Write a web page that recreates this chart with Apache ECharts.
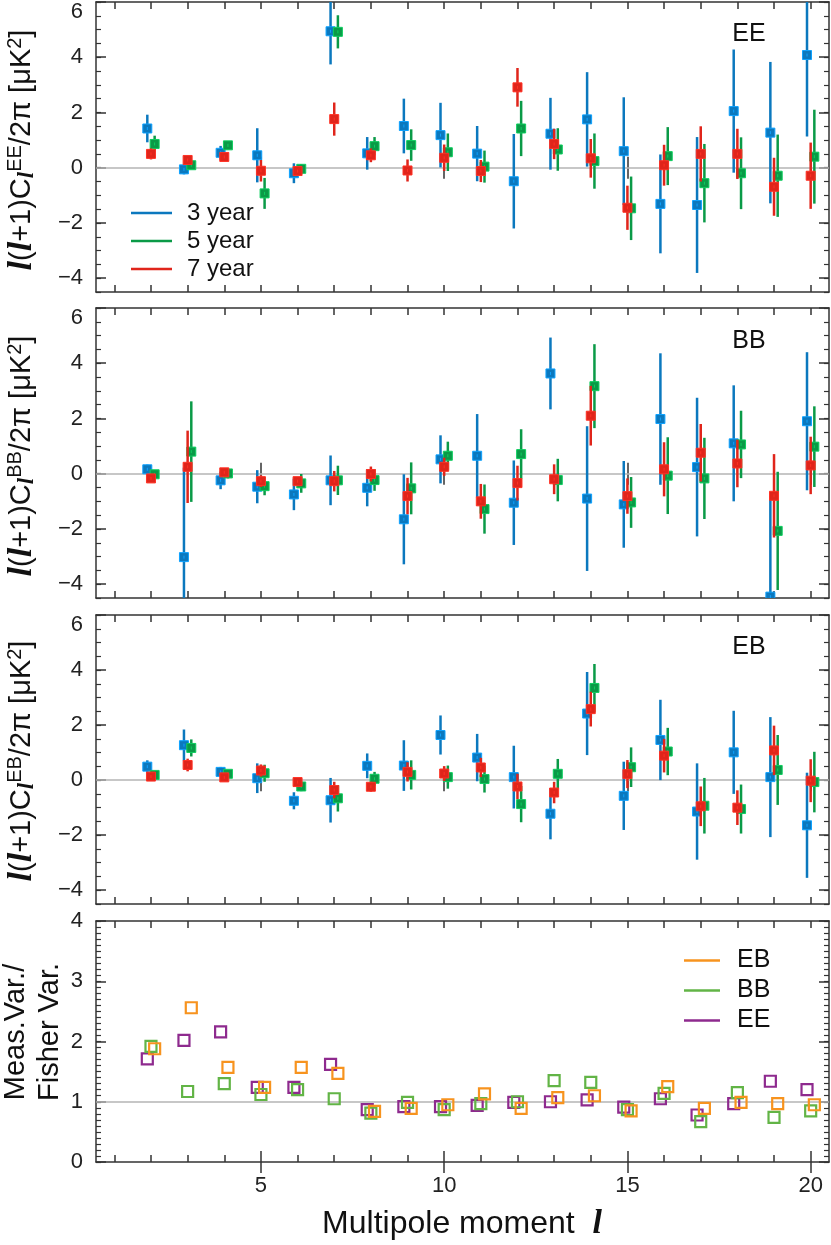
<!DOCTYPE html>
<html>
<head>
<meta charset="utf-8">
<script src="https://cdn.jsdelivr.net/npm/echarts@6/dist/echarts.min.js"></script>
<style>
  html, body { margin: 0; padding: 0; background: #fff; }
  #main { width: 831px; height: 1245px; }
</style>
</head>
<body>
<div id="main"></div>
<script>
// multipoles
var ells = [2, 3, 4, 5, 6, 7, 8, 9, 10, 11, 12, 13, 14, 15, 16, 17, 18, 19, 20];

// EE
var ee3  = [1.42, -0.06, 0.54, 0.45, -0.20, 4.94, 0.52, 1.51, 1.18, 0.51, -0.49, 1.23, 1.75, 0.60, -1.31, -1.35, 2.05, 1.27, 4.08];
var ee3e = [0.50, 0.18, 0.25, 0.98, 0.36, 1.20, 0.59, 0.99, 1.17, 1.00, 1.71, 1.30, 1.71, 1.95, 1.79, 2.46, 2.23, 2.56, 2.95];
var ee5  = [0.86, 0.09, 0.81, -0.93, -0.04, 4.92, 0.78, 0.82, 0.56, 0.04, 1.42, 0.66, 0.24, -1.47, 0.42, -0.56, -0.20, -0.29, 0.40];
var ee5e = [0.30, 0.10, 0.13, 0.56, 0.17, 0.60, 0.33, 0.57, 0.68, 0.58, 1.00, 0.77, 1.00, 1.15, 1.05, 1.42, 1.30, 1.49, 1.70];
var ee7  = [0.50, 0.28, 0.39, -0.11, -0.12, 1.76, 0.45, -0.10, 0.36, -0.12, 2.91, 0.86, 0.34, -1.45, 0.09, 0.50, 0.50, -0.69, -0.29];
var ee7e = [0.20, 0.10, 0.10, 0.39, 0.10, 0.60, 0.25, 0.40, 0.48, 0.40, 0.70, 0.55, 0.70, 0.80, 0.74, 1.00, 0.91, 1.05, 1.20];

// BB
var bb3  = [0.16, -3.02, -0.24, -0.47, -0.75, -0.24, -0.51, -1.65, 0.52, 0.65, -1.05, 3.63, -0.90, -1.11, 1.98, 0.24, 1.10, -4.45, 1.90];
var bb3e = [0.17, 3.24, 0.32, 0.60, 0.57, 0.90, 0.67, 1.63, 0.87, 1.51, 1.53, 1.30, 2.62, 1.57, 2.38, 2.51, 2.10, 3.64, 2.50];
var bb5  = [-0.02, 0.80, 0.01, -0.45, -0.35, -0.24, -0.23, -0.53, 0.65, -1.28, 0.71, -0.23, 3.17, -1.04, -0.07, -0.17, 1.06, -2.07, 0.98];
var bb5e = [0.06, 1.82, 0.18, 0.33, 0.34, 0.53, 0.39, 0.94, 0.51, 0.89, 0.90, 0.77, 1.52, 0.92, 1.39, 1.47, 1.22, 2.14, 1.46];
var bb7  = [-0.17, 0.25, 0.05, -0.27, -0.27, -0.27, -0.01, -0.81, 0.25, -1.00, -0.34, -0.20, 2.10, -0.81, 0.16, 0.76, 0.37, -0.80, 0.30];
var bb7e = [0.08, 1.31, 0.08, 0.21, 0.12, 0.37, 0.27, 0.66, 0.33, 0.63, 0.63, 0.54, 1.08, 0.64, 0.98, 1.04, 0.86, 1.51, 1.04];

// EB
var eb3  = [0.49, 1.27, 0.30, 0.07, -0.75, -0.73, 0.52, 0.53, 1.64, 0.82, 0.11, -1.22, 2.42, -0.57, 1.46, -1.14, 1.01, 0.11, -1.64];
var eb3e = [0.23, 0.57, 0.18, 0.54, 0.31, 0.81, 0.45, 0.92, 0.71, 0.86, 1.14, 0.93, 1.51, 1.24, 1.46, 1.75, 1.51, 2.18, 1.91];
var eb5  = [0.19, 1.17, 0.23, 0.25, -0.23, -0.66, 0.05, 0.19, 0.11, 0.04, -0.87, 0.23, 3.35, 0.47, 1.04, -0.93, -1.05, 0.37, -0.07];
var eb5e = [0.10, 0.31, 0.06, 0.31, 0.17, 0.48, 0.25, 0.53, 0.42, 0.49, 0.66, 0.54, 0.87, 0.72, 0.86, 1.01, 0.89, 1.27, 1.10];
var eb7  = [0.13, 0.55, 0.10, 0.35, -0.07, -0.36, -0.24, 0.30, 0.24, 0.46, -0.23, -0.45, 2.58, 0.22, 0.89, -0.95, -1.00, 1.08, -0.02];
var eb7e = [0.06, 0.23, 0.06, 0.22, 0.08, 0.30, 0.18, 0.35, 0.27, 0.35, 0.46, 0.39, 0.63, 0.51, 0.61, 0.72, 0.63, 0.90, 0.78];

// Meas.Var./Fisher Var.
var varEE = [1.71, 2.02, 2.16, 1.24, 1.24, 1.62, 0.87, 0.92, 0.92, 0.94, 0.99, 1.00, 1.03, 0.91, 1.05, 0.78, 0.97, 1.34, 1.20];
var varBB = [1.92, 1.17, 1.30, 1.12, 1.20, 1.05, 0.81, 0.99, 0.87, 0.97, 1.00, 1.35, 1.32, 0.87, 1.14, 0.67, 1.15, 0.74, 0.85];
var varEB = [1.88, 2.56, 1.57, 1.24, 1.57, 1.47, 0.84, 0.89, 0.95, 1.13, 0.89, 1.07, 1.10, 0.85, 1.25, 0.89, 0.99, 0.97, 0.95];

// ticks
var xTicks = [1, 2, 3, 4, 5, 6, 7, 8, 9, 10, 11, 12, 13, 14, 15, 16, 17, 18, 19, 20];
var xMajor = [5, 10, 15, 20];
var yMajor = [-4, -2, 0, 2, 4, 6];
var yMinor = [];
for (var k = -9; k <= 12; k++) yMinor.push(k / 2);
var vMajor = [0, 1, 2, 3, 4];
var vMinor = [];
for (var k = 0; k <= 40; k++) vMinor.push(k / 10);

var C3 = '#0B78BE', C5 = '#0A9A47', C7 = '#E0251B';
var CEB = '#F7931E', CBB = '#62B446', CEE = '#8E2A8E';
var FONT = 'Liberation Sans';
var AX = '#333';

var grids = [
    {left: 96, right: 2, top: 2, height: 290},
    {left: 96, right: 2, top: 308, height: 290},
    {left: 96, right: 2, top: 615, height: 289},
    {left: 96, right: 2, top: 921, height: 241}
];

function minus(v) {
    return v < 0 ? '\u2212' + Math.abs(v) : String(v);
}

var xAxes = [], yAxes = [];
grids.forEach(function (g, gi) {
    ['bottom', 'top'].forEach(function (pos) {
        xAxes.push({
            gridIndex: gi, type: 'value', min: 0.5, max: 20.5, position: pos,
            axisLine: {show: true, onZero: false, lineStyle: {color: AX, width: 1.5}},
            axisTick: {show: true, inside: true, length: 7, customValues: xTicks, lineStyle: {color: AX, width: 1.5}},
            axisLabel: {show: pos === 'bottom' && gi === 3, customValues: xMajor, margin: 13,
                fontFamily: FONT, fontSize: 22, color: '#222'},
            splitLine: {show: false}
        });
        xAxes.push({
            gridIndex: gi, type: 'value', min: 0.5, max: 20.5, position: pos,
            axisLine: {show: false},
            axisTick: {show: true, inside: true, length: 11, customValues: xMajor, lineStyle: {color: AX, width: 1.5}},
            axisLabel: {show: false},
            splitLine: {show: false}
        });
    });
    var isVar = gi === 3;
    ['left', 'right'].forEach(function (pos) {
        yAxes.push({
            gridIndex: gi, type: 'value', min: isVar ? 0 : -4.5, max: isVar ? 4 : 6, position: pos,
            axisLine: {show: true, onZero: false, lineStyle: {color: AX, width: 1.5}},
            axisTick: {show: true, inside: true, length: 5, customValues: isVar ? vMinor : yMinor,
                lineStyle: {color: AX, width: 1.2}},
            axisLabel: {show: pos === 'left', customValues: isVar ? vMajor : yMajor, margin: 13,
                fontFamily: FONT, fontSize: 22, color: '#222',
                formatter: function (v) {
                    if (!isVar && v === 6) return '{t|6}';
                    return minus(v);
                },
                rich: {t: {fontFamily: FONT, fontSize: 22, color: '#222', padding: [20, 0, 0, 0]}}
            },
            splitLine: {show: false}
        });
        yAxes.push({
            gridIndex: gi, type: 'value', min: isVar ? 0 : -4.5, max: isVar ? 4 : 6, position: pos,
            axisLine: {show: false},
            axisTick: {show: true, inside: true, length: 10, customValues: isVar ? vMajor : yMajor,
                lineStyle: {color: AX, width: 1.5}},
            axisLabel: {show: false},
            splitLine: {show: false}
        });
    });
});

function lighten(c) {
    return echarts.color.lift(c, -0.35);
}

function errItem(params, api) {
    var x = api.value(0), v = api.value(1), e = api.value(2);
    var p = api.coord([x, v]);
    var hi = api.coord([x, v + e]);
    var lo = api.coord([x, v - e]);
    var color = api.visual('color');
    return {
        type: 'group',
        children: [
            {type: 'line', shape: {x1: p[0], y1: lo[1], x2: p[0], y2: hi[1]},
                style: {stroke: color, lineWidth: 2.5}},
            {type: 'rect', shape: {x: p[0] - 4.5, y: p[1] - 4.5, width: 9, height: 9},
                style: {fill: color, stroke: lighten(color), lineWidth: 1}},
            {type: 'line', shape: {x1: p[0], y1: p[1] - 1.5, x2: p[0], y2: p[1] + 1.5},
                style: {stroke: lighten(color), lineWidth: 1}}
        ]
    };
}

function errSeries(name, gi, vals, errs, off, color, withZero) {
    var s = {
        name: name, type: 'custom', xAxisIndex: gi * 4, yAxisIndex: gi * 4,
        clip: true,
        itemStyle: {color: color},
        renderItem: errItem,
        encode: {x: 0, y: 1},
        data: ells.map(function (l, i) { return [l + off, vals[i], errs[i]]; }),
        z: 3
    };
    if (withZero) {
        s.markLine = {
            silent: true, symbol: 'none', label: {show: false},
            lineStyle: {color: '#b5b5b5', width: 1.5, type: 'solid'},
            data: [{yAxis: withZero.y}], z: 1, animation: false
        };
    }
    return s;
}

var series = [];
var panels = [
    [ee3, ee3e, ee5, ee5e, ee7, ee7e],
    [bb3, bb3e, bb5, bb5e, bb7, bb7e],
    [eb3, eb3e, eb5, eb5e, eb7, eb7e]
];
panels.forEach(function (p, gi) {
    series.push(errSeries('3 year', gi, p[0], p[1], -0.1, C3, {y: 0}));
    series.push(errSeries('5 year', gi, p[2], p[3], 0.1, C5));
    series.push(errSeries('7 year', gi, p[4], p[5], 0, C7));
});

function varSeries(name, vals, off, color, withOne) {
    var s = {
        name: name, type: 'scatter', xAxisIndex: 12, yAxisIndex: 12,
        symbol: 'rect', symbolSize: 11,
        itemStyle: {color: 'rgba(255,255,255,0)', borderColor: color, borderWidth: 2.2, opacity: 1},
        data: ells.map(function (l, i) { return [l + off, vals[i]]; }),
        z: 3
    };
    if (withOne) {
        s.markLine = {
            silent: true, symbol: 'none', label: {show: false},
            lineStyle: {color: '#b5b5b5', width: 1.5, type: 'solid'},
            data: [{yAxis: 1}], z: 1, animation: false
        };
    }
    return s;
}
series.push(varSeries('EE', varEE, -0.1, CEE, true));
series.push(varSeries('BB', varBB, 0, CBB));
series.push(varSeries('EB', varEB, 0.1, CEB));

var yNameRich = {
    i: {fontFamily: 'Liberation Serif', fontStyle: 'italic', fontWeight: 'bold', fontSize: 34, color: '#111'},
    sub: {fontFamily: 'Liberation Serif', fontStyle: 'italic', fontWeight: 'bold', fontSize: 23, color: '#111', verticalAlign: 'bottom'},
    sup: {fontFamily: FONT, fontSize: 20, color: '#111', verticalAlign: 'top'}
};

function yName(tag, cx, cy) {
    return {
        type: 'text', x: cx, y: cy, rotation: Math.PI / 2,
        style: {
            text: '{i|l}({i|l}+1)C{sub|l}{sup|' + tag + '}/2\u03c0 [\u03bcK{sup|2}]',
            rich: yNameRich,
            font: '29px "Liberation Sans"', fill: '#111',
            align: 'center', verticalAlign: 'middle'
        }
    };
}

var option = {
    backgroundColor: '#fff',
    animation: false,
    grid: grids,
    xAxis: xAxes,
    yAxis: yAxes,
    legend: [
        {
            data: ['3 year', '5 year', '7 year'],
            orient: 'vertical', left: 126, top: 196, itemGap: 4,
            icon: 'rect', itemWidth: 41, itemHeight: 2.5,
            textStyle: {fontFamily: FONT, fontSize: 24, color: '#111', padding: [0, 0, 0, 10]},
            selectedMode: false
        },
        {
            data: [
                {name: 'EB', itemStyle: {color: CEB, borderWidth: 0}},
                {name: 'BB', itemStyle: {color: CBB, borderWidth: 0}},
                {name: 'EE', itemStyle: {color: CEE, borderWidth: 0}}
            ],
            orient: 'vertical', left: 679, top: 943, itemGap: 5,
            icon: 'rect', itemWidth: 36, itemHeight: 2.5,
            textStyle: {fontFamily: FONT, fontSize: 25, color: '#111', padding: [0, 0, 0, 12]},
            selectedMode: false
        }
    ],
    graphic: [
        {type: 'text', x: 749, y: 34, style: {text: 'EE', font: '25px "Liberation Sans"', fill: '#111', align: 'center', verticalAlign: 'middle'}},
        {type: 'text', x: 749, y: 341, style: {text: 'BB', font: '25px "Liberation Sans"', fill: '#111', align: 'center', verticalAlign: 'middle'}},
        {type: 'text', x: 749, y: 647, style: {text: 'EB', font: '25px "Liberation Sans"', fill: '#111', align: 'center', verticalAlign: 'middle'}},
        yName('EE', 22, 150),
        yName('BB', 22, 456),
        yName('EB', 22, 761),
        {
            type: 'text', x: 33, y: 1032, rotation: Math.PI / 2,
            style: {text: 'Meas.Var./\nFisher Var.', font: '29px "Liberation Sans"', fill: '#111',
                align: 'center', verticalAlign: 'middle', lineHeight: 34}
        },
        {
            type: 'text', x: 462, y: 1224,
            style: {
                text: 'Multipole moment  {i|l}',
                rich: {i: {fontFamily: 'Liberation Serif', fontStyle: 'italic', fontWeight: 'bold', fontSize: 34, color: '#111'}},
                font: '32px "Liberation Sans"', fill: '#111', align: 'center', verticalAlign: 'middle'
            }
        }
    ],
    series: series
};

var myChart = echarts.init(document.getElementById('main'));
myChart.setOption(option);
</script>
</body>
</html>
